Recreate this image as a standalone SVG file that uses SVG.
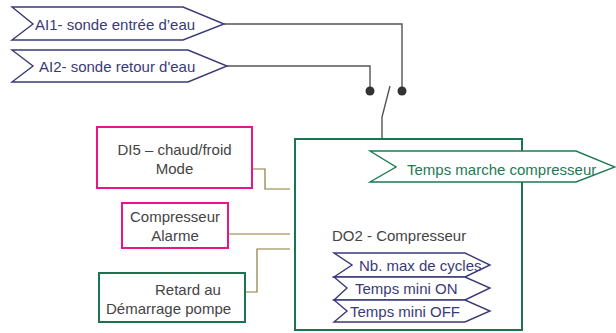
<svg xmlns="http://www.w3.org/2000/svg" width="616" height="333" viewBox="0 0 616 333">
<style>
text{font-family:"Liberation Sans",Arial,sans-serif;font-size:15px}
.navy{fill:#fff;stroke:#3a3a78;stroke-width:1.4}
.tnavy{fill:#3a3a78}
.tgray{fill:#444}
.tgreen{fill:#1e7a52}
.pink{fill:#fff;stroke:#e8148c;stroke-width:2}
.green{fill:#fff;stroke:#1a7450;stroke-width:2}
.wire{fill:none;stroke:#555;stroke-width:1.4}
.olive{fill:none;stroke:#8c7a3c;stroke-width:1.2}
</style>
<g id="connectors">
<polyline class="wire" points="224,24 402,24 402,91"/>
<polyline class="wire" points="227,66 370,66 370,91"/>
<circle cx="370" cy="91" r="4.5" fill="#333"/>
<circle cx="402" cy="91" r="4.5" fill="#333"/>
<polyline class="wire" points="390,86 382,117 382,139"/>
<polyline class="olive" points="252,169 265,169 265,189 290,189"/>
<polyline class="olive" points="228,234 290,234"/>
<polyline class="olive" points="245,292 257,292 257,249 290,249"/>
</g>
<g id="ai1">
<polygon class="navy" points="12,7 183,7 224,24 183,40 12,40 33,24"/>
<text class="tnavy" x="35" y="30">AI1- sonde entrée d’eau</text>
</g>
<g id="ai2">
<polygon class="navy" points="12,50 188,50 227,66 188,82 12,82 33,66"/>
<text class="tnavy" x="39" y="72">AI2- sonde retour d'eau</text>
</g>
<g id="do2">
<rect class="green" x="295" y="139" width="227" height="191"/>
<text class="tgray" x="332" y="241">DO2 - Compresseur</text>
</g>
<g id="temps-marche">
<polygon fill="#fff" stroke="#1e7a52" stroke-width="1.4" points="370,151 576,151 615,167 576,182 370,182 396,167"/>
<text class="tgreen" x="407" y="175">Temps marche compresseur</text>
</g>
<g id="nb-cycles">
<polygon class="navy" points="334,253 465,253 490,265 465,277 334,277 352,265"/>
<text class="tnavy" x="359" y="271">Nb. max de cycles</text>
</g>
<g id="temps-mini-on">
<polygon class="navy" points="334,277 465,277 490,288 465,300 334,300 347,288"/>
<text class="tnavy" x="355" y="294">Temps mini ON</text>
</g>
<g id="temps-mini-off">
<polygon class="navy" points="334,300 465,300 490,311 465,322 334,322 347,311"/>
<text class="tnavy" x="350" y="317">Temps mini OFF</text>
</g>
<g id="di5">
<rect class="pink" x="97" y="127" width="155" height="61"/>
<text class="tgray" x="174.5" y="155" text-anchor="middle">DI5 – chaud/froid</text>
<text class="tgray" x="174.5" y="174" text-anchor="middle">Mode</text>
</g>
<g id="alarme">
<rect class="pink" x="122" y="203" width="106" height="45"/>
<text class="tgray" x="175" y="222" text-anchor="middle">Compresseur</text>
<text class="tgray" x="175" y="241" text-anchor="middle">Alarme</text>
</g>
<g id="retard">
<rect class="green" x="99" y="273" width="146" height="49"/>
<text class="tgray" x="155" y="295">Retard au</text>
<text class="tgray" x="106" y="314">Démarrage pompe</text>
</g>
</svg>
